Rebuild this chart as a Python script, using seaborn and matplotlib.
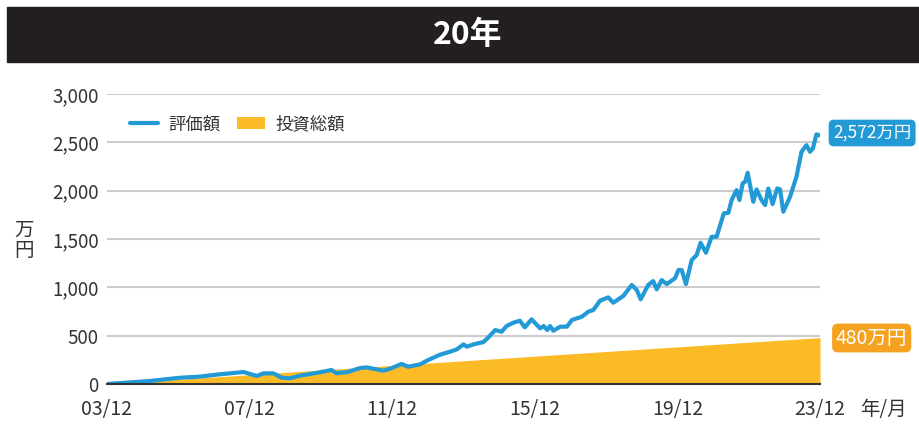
import numpy as np
import pandas as pd
import seaborn as sns
import matplotlib.pyplot as plt
from matplotlib.patches import Rectangle

# years since 2003/12
years = [0, 1.2, 2.05, 2.6, 3.08, 3.83, 4.2, 4.39, 4.67, 4.9, 5.13, 5.41, 5.97, 6.3, 6.44, 6.54,
         6.72, 7.1, 7.28, 7.75, 7.94, 8.26, 8.45, 8.78, 9.01, 9.34, 9.62, 9.81, 10.0, 10.09,
         10.28, 10.56, 10.7, 10.89, 11.07, 11.21, 11.4, 11.58, 11.72, 11.91, 12.15, 12.25,
         12.35, 12.43, 12.52, 12.71, 12.9, 13.04, 13.32, 13.5, 13.64, 13.83, 14.06, 14.2,
         14.48, 14.72, 14.86, 14.97, 15.18, 15.32, 15.42, 15.56, 15.7, 15.93, 16.03, 16.12,
         16.24, 16.4, 16.54, 16.65, 16.8, 16.96, 17.1, 17.3, 17.43, 17.52, 17.66, 17.74,
         17.83, 17.9, 17.97, 18.13, 18.22, 18.36, 18.46, 18.55, 18.67, 18.8, 18.88, 18.97,
         19.16, 19.34, 19.48, 19.62, 19.72, 19.8, 19.9, 20.0]
valuation = [0, 31, 65, 76, 97, 124, 83, 110, 110, 65, 59, 86, 121, 145, 110, 117,
             121, 165, 172, 138, 158, 207, 179, 203, 248, 303, 334, 358, 410, 386,
             410, 434, 483, 558, 541, 600, 634, 655, 586, 669, 576, 600,
             558, 600, 551, 593, 593, 662, 696, 748, 765, 862, 896, 841,
             910, 1024, 972, 876, 1024, 1065, 979, 1075, 1034, 1093, 1179, 1179,
             1034, 1282, 1334, 1461, 1358, 1523, 1523, 1765, 1771, 1903, 2006, 1903,
             2075, 2092, 2185, 1885, 2013, 1903, 1851, 2023, 1861, 2023, 2013, 1782,
             1937, 2144, 2402, 2471, 2402, 2437, 2582, 2572]
invest_years = [0, 20]
invested = [0, 480]

tick_pos = [0, 4, 8, 12, 16, 20]
tick_labels = ["03/12", "07/12", "11/12", "15/12", "19/12", "23/12"]
y_ticks = [0, 500, 1000, 1500, 2000, 2500, 3000]

BLUE = "#229ad6"
ORANGE = "#fbbb27"
LABEL_ORANGE = "#f5a220"

sns.set_style("white")
plt.rcParams['font.family'] = ['Noto Sans CJK JP', 'DejaVu Sans']

df = pd.DataFrame({"year": years, "value": valuation})

fig = plt.figure(figsize=(9.19, 4.24), dpi=100)
ax = fig.add_axes([107/919, 1 - 384/424, 713/919, 290/424])

area = ax.fill_between(invest_years, invested, color=ORANGE, linewidth=0, label="投資総額", zorder=2)
sns.lineplot(data=df, x="year", y="value", ax=ax, color=BLUE, linewidth=3, label="評価額", zorder=3)
line = ax.get_lines()[0]

ax.set_xlim(0, 20)
ax.set_ylim(0, 3000)
ax.set_yticks(y_ticks)
ax.set_yticklabels([f"{v:,}" for v in y_ticks], fontsize=13.5, color="#333333")
ax.set_xticks(tick_pos)
ax.set_xticklabels(tick_labels, fontsize=14, color="#333333")
ax.tick_params(axis="y", length=0, pad=6)
ax.tick_params(axis="x", length=0, pad=11)
ax.grid(axis="y", color="#cccccc", linewidth=1.5)
ax.set_axisbelow(True)
for s in ["top", "right", "left"]:
    ax.spines[s].set_visible(False)
ax.spines["bottom"].set_color("#333333")
ax.spines["bottom"].set_linewidth(1.5)
ax.spines["bottom"].set_zorder(4)
ax.set_xlabel("")
ax.set_ylabel("")

leg = ax.legend([line, area], ["評価額", "投資総額"], loc="upper left", bbox_to_anchor=(0.01, 0.98),
                ncol=2, frameon=False, fontsize=12.5, handlelength=1.6, columnspacing=1.0,
                handletextpad=0.6)
for t in leg.get_texts():
    t.set_color("#333333")

# title bar
fig.patches.append(Rectangle((7/919, 1 - 62/424), 912/919, 55/424, transform=fig.transFigure,
                             color="#231f20", zorder=0))
fig.text(468/919, 1 - 35/424, "20年", color="white", fontsize=23, fontweight="bold",
         ha="center", va="center")

# y unit label
fig.text(24/919, 1 - 240/424, "万\n円", fontsize=14, color="#333333", ha="center", va="center",
         linespacing=0.95)
fig.text(883/919, 1 - 410/424, "年/月", fontsize=14, color="#333333", ha="center", va="center")

# end labels
fig.text(833/919, 1 - 133/424, "2,572万円", fontsize=12.5, color="white", ha="left", va="center",
         bbox=dict(boxstyle="round,pad=0.25,rounding_size=0.3", fc=BLUE, ec="none"))
fig.text(836/919, 1 - 338/424, "480万円", fontsize=14, color="white", ha="left", va="center",
         bbox=dict(boxstyle="round,pad=0.2,rounding_size=0.3", fc=LABEL_ORANGE, ec="none"))

plt.savefig("out.png", dpi=100)
